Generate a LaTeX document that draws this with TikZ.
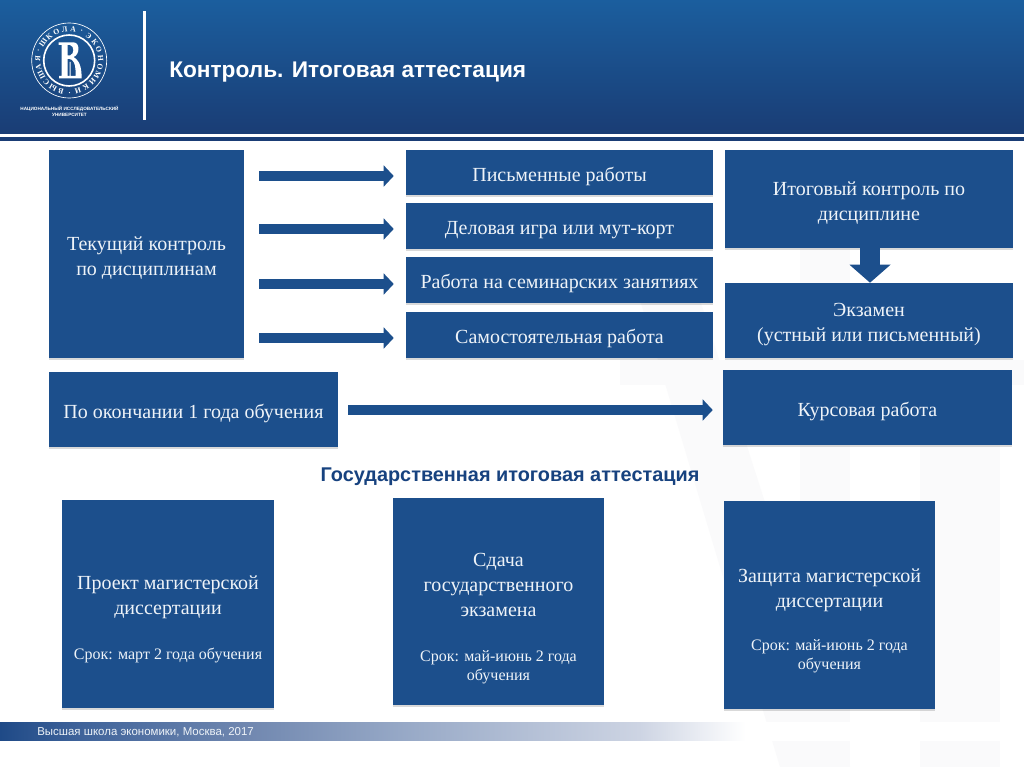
\documentclass[tikz,border=0pt]{standalone}
\usepackage{fontspec}
\setmainfont{Liberation Serif}
\newfontfamily\arialf{Liberation Sans}
\usetikzlibrary{shadows,calc,arrows.meta}
\definecolor{hsebox}{HTML}{1C4F8C}
\definecolor{hsehead}{HTML}{17427F}
\definecolor{hsetxt}{HTML}{EEF3F8}
\definecolor{wm}{HTML}{FAFAFB}
\definecolor{hdrtop}{HTML}{1B5E9E}
\definecolor{hdrbot}{HTML}{1A3D75}
\definecolor{foot0}{HTML}{1F4A87}
\definecolor{foot1}{HTML}{3F639A}
\definecolor{foot2}{HTML}{7188B0}
\definecolor{foot3}{HTML}{96A8C6}
\definecolor{foot4}{HTML}{CDD4E3}
\pgfdeclarehorizontalshading{foot}{100bp}{color(0bp)=(foot0);color(25bp)=(foot0);color(28.9bp)=(foot1);color(37.2bp)=(foot2);color(44.5bp)=(foot3);color(56.2bp)=(foot4);color(61.4bp)=(white);color(100bp)=(white)}
\newcommand\smt{\fontsize{12}{14.5}\selectfont}
\tikzset{
 box/.style={fill=hsebox,draw=none,text=hsetxt,align=center,inner sep=0pt,font=\fontsize{15}{18.7}\selectfont,
   drop shadow={shadow xshift=0pt,shadow yshift=-1.4pt,opacity=.15,fill=black}},
 lbl/.style={text=hsetxt,align=center,inner sep=0pt,font=\fontsize{15}{18.7}\selectfont},
 arrowline/.style={draw=hsebox,line width=7.5pt,-{Triangle[length=7.5pt,width=15.5pt]}},
 lg/.style={text=white,inner sep=0pt,font=\fontsize{5.8}{6}\selectfont\bfseries},
}
\newcommand\bx[6]{%
 \pgfmathsetmacro\bw{(#4-#2)*.75}\pgfmathsetmacro\bh{(#5-#3)*.75}%
 \node[box,minimum width=\bw pt,minimum height=\bh pt] (#1) at ({(#2+#4)/2},{(#3+#5)/2}) {\rule{0pt}{16.5pt}#6};}
\begin{document}
\begin{tikzpicture}[x=.75pt,y=-.75pt]
\useasboundingbox (0,0) rectangle (1024,767);
\fill[white] (0,0) rectangle (1024,767);
% watermark
\fill[wm] (640,300) -- (700,300) -- (850,767) -- (780,767) -- cycle;
\fill[wm] (800,240) -- (850,240) -- (850,767) -- (800,767) -- cycle;
\fill[wm] (920,350) -- (1000,350) -- (1000,767) -- (920,767) -- cycle;
\fill[wm] (620,360) -- (1024,360) -- (1024,385) -- (620,385) -- cycle;
% header
\shade[top color=hdrtop,bottom color=hdrbot] (0,0) rectangle (1024,133);
\fill[hdrbot] (0,137) rectangle (1024,141);
\fill[white] (142.5,11) rectangle (145.5,120);
\node[font=\arialf\bfseries\fontsize{17}{20}\selectfont,text=white,anchor=west,inner sep=0pt] (title) at (169,72) {Контроль. Итоговая аттестация};
% logo
\draw[white,line width=.5pt] (69.2,60.5) circle [radius=37.5];
\draw[white,line width=1.2pt] (69.2,60.5) circle [radius=25.5];
\foreach \ch [count=\i from 0] in {В,Ы,С,Ш,А,Я,·,Ш,К,О,Л,А,·,Э,К,О,Н,О,М,И,К,И,·}{
  \pgfmathsetmacro\th{195+\i*360/23}
  \node[lg,rotate=-\th] (lgc\i) at ({69.2+31.5*sin(\th)},{60.5-31.5*cos(\th)}) {\ch};
}
\fill[white,even odd rule] (58.5,42.5) -- (74,42.5) .. controls (80,42.5) and (80,55) .. (73.5,57) .. controls (77,59) and (81,63) .. (81.5,74) -- (81.5,78.5) -- (59,78.5) -- (59,76) -- (61.5,76) -- (61.5,45) -- (58.5,45) -- cycle
  (67.5,45) -- (67.5,55.5) -- (70,55.5) .. controls (74.5,54) and (74.5,46) .. (70,45) -- cycle
  (67.5,59) -- (67.5,76) -- (69.5,76) -- (69.5,62) -- (70.5,62) -- (70.5,76) -- (75.5,76) -- (75.5,70) .. controls (75.5,64) and (73,59) .. (69.5,59) -- cycle;
\node[font=\arialf\bfseries\fontsize{3.5}{4.8}\selectfont,text=white,align=center,inner sep=0pt] (lgt) at (69.5,111.5) {НАЦИОНАЛЬНЫЙ ИССЛЕДОВАТЕЛЬСКИЙ\\УНИВЕРСИТЕТ};
% boxes
\bx{tek}{49}{150}{244}{358}{Текущий контроль\\по дисциплинам}
\bx{pis}{406}{150}{713}{195}{Письменные работы}
\bx{del}{406}{203}{713}{249}{Деловая игра или мут-корт}
\bx{sem}{406}{257}{713}{303}{Работа на семинарских занятиях}
\bx{sam}{406}{312}{713}{358}{Самостоятельная работа}
\bx{ito}{725}{150}{1013}{248}{Итоговый контроль по\\дисциплине}
\bx{exa}{725}{283}{1013}{358}{Экзамен\\(устный или письменный)}
\bx{kur}{723}{370}{1012}{445}{Курсовая работа}
\bx{oko}{49}{372}{338}{447}{По окончании 1 года обучения}
\bx{pro}{62}{500}{274}{708}{}
\bx{sda}{393}{498}{604}{705}{}
\bx{zas}{724}{501}{935}{709}{}
\node[lbl] (prot) at (168,619.5) {Проект магистерской\\диссертации\\[15pt]\smt Срок: март 2 года обучения};
\node[lbl] (sdat) at (498.5,618.5) {Сдача\\государственного\\экзамена\\[15pt]\smt Срок: май-июнь 2 года\\[-4.5pt]\smt обучения};
\node[lbl] (zast) at (829.5,621) {Защита магистерской\\диссертации\\[14pt]\smt Срок: май-июнь 2 года\\[-4.5pt]\smt обучения};
% arrows
\draw[arrowline] ($(tek.east |- pis.west)+(15,3.5)$) -- ($(pis.west)+(-12,3.5)$);
\draw[arrowline] ($(tek.east |- del.west)+(15,3)$) -- ($(del.west)+(-12,3)$);
\draw[arrowline] ($(tek.east |- sem.west)+(15,4)$) -- ($(sem.west)+(-12,4)$);
\draw[arrowline] ($(tek.east |- sam.west)+(15,3)$) -- ($(sam.west)+(-12,3)$);
\draw[arrowline] ($(oko.east)+(10,0.5)$) -- ($(kur.west |- oko.east)+(-10,0.5)$);
\draw[hsebox,line width=15pt,-{Triangle[length=13.5pt,width=30pt]}] ($(ito.south)+(1,0)$) -- ($(exa.north)+(1,0)$);
% heading
\node[font=\arialf\bfseries\fontsize{14.9}{18}\selectfont,text=hsehead,inner sep=0pt] (gia) at (510,477) {Государственная итоговая аттестация};
% footer
\shade[shading=foot] (0,722) rectangle (1024,740);
\node[font=\arialf\fontsize{8.6}{10}\selectfont,text=hsetxt,anchor=west,inner sep=0pt] (ft) at (37,732.5) {Высшая школа экономики, Москва, 2017};
\end{tikzpicture}
\end{document}
